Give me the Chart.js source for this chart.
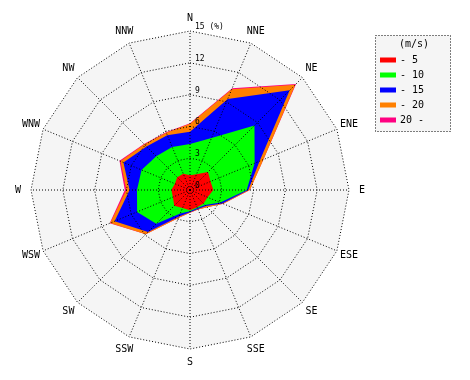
<!DOCTYPE html>
<html><head><meta charset="utf-8">
<script src="https://cdn.jsdelivr.net/npm/chart.js@4.4.1/dist/chart.umd.min.js"></script>
<style>html,body{margin:0;padding:0;background:#fff;}canvas{display:block;}</style>
</head><body>
<canvas id="c" width="470" height="380"></canvas>
<script>
// ---- data (frequency in % per direction, per wind-speed class) ----
const directions = ['N','NNE','NE','ENE','E','ESE','SE','SSE','S','SSW','SW','WSW','W','WNW','NW','NNW'];
const speedClasses = ['- 5','- 10','- 15','- 20','20 -'];
const classColors = ['#ff0000','#00ff00','#0000ff','#ff8000','#ff0080'];
const freqUpTo5   = [1.40,1.60,2.40,2.10,2.20,1.80,1.80,1.75,1.90,1.85,2.10,1.75,1.75,1.55,1.70,1.65];
const freq5to10   = [2.95,3.70,6.20,4.50,3.15,1.30,0.20,0.10,0.10,0.55,2.40,3.65,3.25,3.40,2.80,2.75];
const freq10to15  = [1.15,4.00,4.70,0.50,0.15,0.20,0.15,0.10,0.10,0.30,1.10,2.30,0.70,1.85,1.30,1.20];
const freq15to20  = [0.75,1.00,0.75,0.40,0.15,0.10,0.15,0.05,0.05,0.15,0.30,0.45,0.30,0.30,0.30,0.25];
const freqOver20  = [0.05,0.10,0.10,0.00,0.00,0.00,0.00,0.00,0.00,0.00,0.00,0.05,0.15,0.10,0.05,0.05];
const radialTicks = [0,3,6,9,12,15];
const unitLabel = '(%)';
const legendTitle = '(m/s)';

// stacked (cumulative) series for the rose
const bins = [freqUpTo5, freq5to10, freq10to15, freq15to20, freqOver20];
const cumulative = [];
bins.forEach((b, k) => {
  cumulative.push(b.map((v, i) => (k ? cumulative[k-1][i] : 0) + v));
});

const MONO = '"DejaVu Sans Mono", monospace';

const roseBackground = {
  id: 'roseBackground',
  beforeDatasetsDraw(chart) {
    const s = chart.scales.r, ctx = chart.ctx;
    ctx.save();
    ctx.beginPath();
    directions.forEach((d, i) => {
      const p = s.getPointPositionForValue(i, s.max);
      if (i) ctx.lineTo(p.x, p.y); else ctx.moveTo(p.x, p.y);
    });
    ctx.closePath();
    ctx.fillStyle = '#f5f5f5';
    ctx.fill();
    ctx.restore();
  }
};

const roseLabels = {
  id: 'roseLabels',
  afterDraw(chart) {
    const s = chart.scales.r, ctx = chart.ctx;
    ctx.save();
    ctx.fillStyle = '#000';
    // direction labels
    ctx.font = '10px ' + MONO;
    ctx.textAlign = 'center';
    ctx.textBaseline = 'middle';
    directions.forEach((d, i) => {
      const p = s.getPointPosition(i, s.drawingArea + 13);
      ctx.fillText(d, p.x, p.y);
    });
    // radial tick labels
    ctx.font = '8px ' + MONO;
    ctx.textAlign = 'left';
    ctx.textBaseline = 'alphabetic';
    radialTicks.forEach(v => {
      const p = s.getPointPositionForValue(0, v);
      const txt = v === s.max ? v + ' ' + unitLabel : String(v);
      ctx.fillText(txt, p.x + 5, p.y - 2);
    });
    // legend
    const lx = 375.5, ly = 35.5, lw = 75, lh = 96;
    ctx.fillStyle = '#f5f5f5';
    ctx.fillRect(lx, ly, lw, lh);
    ctx.strokeStyle = '#000';
    ctx.lineWidth = 1;
    ctx.setLineDash([1, 2]);
    ctx.strokeRect(lx, ly, lw, lh);
    ctx.setLineDash([]);
    ctx.font = '10px ' + MONO;
    ctx.fillStyle = '#000';
    ctx.textAlign = 'center';
    ctx.textBaseline = 'middle';
    ctx.fillText(legendTitle, 414, 44);
    chart.data.datasets.forEach((ds, k) => {
      const y = 60 + k * 15;
      ctx.fillStyle = ds.backgroundColor;
      ctx.fillRect(380, y - 2.5, 16, 5);
      ctx.fillStyle = '#000';
      ctx.textAlign = 'left';
      ctx.fillText(ds.label, 400, y);
    });
    ctx.restore();
  }
};

new Chart(document.getElementById('c'), {
  type: 'radar',
  data: {
    labels: directions,
    datasets: cumulative.map((vals, k) => ({
      label: speedClasses[k],
      data: vals,
      backgroundColor: classColors[k],
      borderColor: 'rgba(0,0,0,0)',
      borderWidth: 0,
      pointRadius: 0,
      pointHoverRadius: 0,
      fill: 'origin',
      tension: 0
    }))
  },
  options: {
    responsive: false,
    animation: false,
    events: [],
    layout: { padding: { left: 31, top: 31, right: 121, bottom: 31 } },
    plugins: { legend: { display: false }, tooltip: { enabled: false } },
    scales: {
      r: {
        min: 0, max: 15,
        startAngle: 0,
        ticks: { display: false, stepSize: 3 },
        pointLabels: { display: false },
        grid: { color: '#000', lineWidth: 1, borderDash: [1, 2], z: 1 },
        border: { dash: [1, 2] },
        angleLines: { display: true, color: '#000', lineWidth: 1, borderDash: [1, 2] }
      }
    }
  },
  plugins: [roseBackground, roseLabels]
});
</script>
</body></html>
